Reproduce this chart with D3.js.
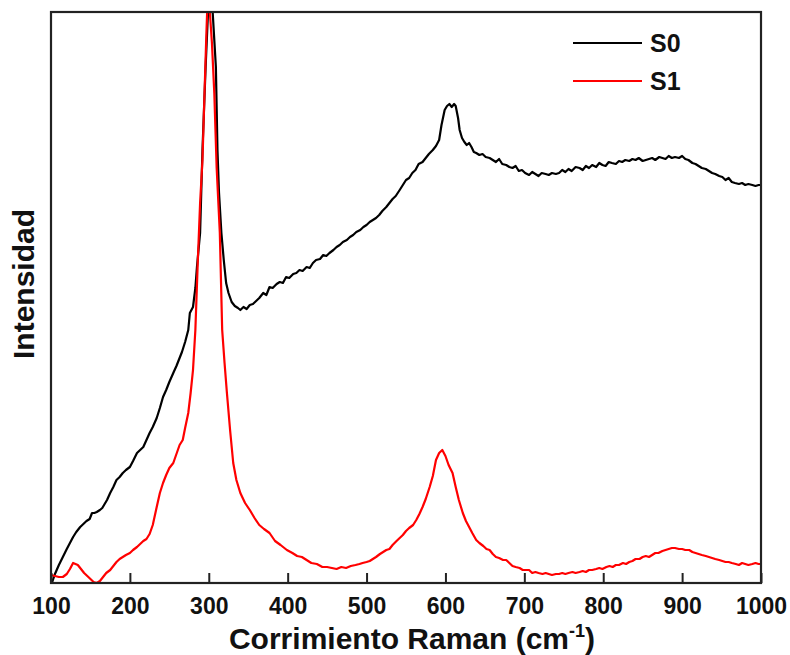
<!DOCTYPE html>
<html>
<head>
<meta charset="utf-8">
<script src="https://cdn.jsdelivr.net/npm/d3@7"></script>
<style>
  html, body { margin: 0; padding: 0; background: #fff; }
  svg { display: block; }
  text { font-family: Arial, "Liberation Sans", Helvetica, sans-serif; font-weight: bold; fill: #111; }
</style>
</head>
<body>
<svg id="chart" width="790" height="655"></svg>
<script>
// Raman shift ticks (cm^-1)
const xTicks = [100, 200, 300, 400, 500, 600, 700, 800, 900, 1000];

// Series names and colours
const seriesNames = ["S0", "S1"];
const seriesColors = ["#000000", "#ff0000"];

// S0 spectrum: [Raman shift, intensity (a.u.)]
const s0 = [
  [101,0],[102,20],[105,90],[110,180],[115,260],[120,340],[124,400],[128,460],[132,510],[137,560],
  [141,590],[145,620],[149,640],[152,700],[155,700],[158,710],[162,730],[165,750],[168,790],[171,830],
  [175,900],[179,960],[183,1030],[187,1060],[191,1100],[195,1130],[200,1160],[204,1220],[209,1300],[213,1330],
  [217,1360],[221,1430],[225,1500],[229,1560],[234,1650],[238,1750],[242,1860],[246,1930],[250,2010],[255,2100],
  [259,2170],[263,2250],[266,2310],[270,2410],[274,2530],[276,2700],[280,2760],[283,2950],[285,3160],[289,3500],
  [292,4330],[296,5160],[299,5700],[302,5950],[305,5700],[309,5160],[311,4330],[313,3900],[316,3500],[319,3230],
  [322,3000],[325,2900],[329,2810],[333,2770],[337,2750],[340,2730],[344,2760],[348,2740],[352,2780],[356,2790],
  [360,2820],[364,2850],[369,2900],[373,2880],[377,2960],[381,2950],[386,2990],[390,3010],[394,3000],[398,3060],
  [402,3050],[407,3090],[411,3100],[415,3130],[419,3120],[424,3160],[428,3150],[432,3200],[436,3230],[441,3240],
  [445,3280],[449,3270],[453,3300],[458,3330],[462,3360],[466,3380],[470,3410],[475,3430],[479,3460],[483,3480],
  [487,3510],[492,3530],[496,3560],[500,3580],[504,3610],[508,3630],[512,3650],[516,3680],[520,3720],[525,3760],
  [529,3800],[533,3840],[537,3870],[542,3930],[546,3980],[550,4030],[554,4050],[558,4100],[562,4130],[566,4190],
  [571,4210],[575,4250],[579,4290],[584,4330],[588,4370],[592,4430],[595,4580],[599,4730],[602,4770],[605,4790],
  [608,4760],[611,4790],[613,4770],[616,4650],[618,4530],[621,4450],[624,4410],[627,4380],[630,4400],[633,4360],
  [636,4310],[639,4300],[643,4280],[647,4290],[651,4260],[656,4250],[660,4230],[664,4210],[668,4240],[672,4190],
  [677,4180],[681,4160],[685,4150],[689,4170],[693,4120],[697,4130],[701,4100],[706,4080],[710,4110],[714,4090],
  [718,4070],[722,4100],[727,4090],[731,4080],[735,4100],[740,4090],[744,4100],[748,4130],[752,4110],[756,4140],
  [760,4120],[765,4160],[770,4150],[774,4130],[778,4170],[782,4150],[786,4180],[791,4160],[795,4200],[799,4180],
  [803,4170],[807,4210],[811,4200],[816,4190],[820,4220],[824,4210],[828,4230],[833,4220],[837,4240],[841,4230],
  [845,4250],[850,4220],[854,4230],[858,4240],[862,4250],[866,4230],[871,4260],[875,4250],[879,4240],[883,4270],
  [887,4250],[891,4260],[896,4250],[900,4270],[904,4240],[908,4230],[913,4200],[917,4190],[921,4170],[925,4150],
  [930,4140],[934,4120],[938,4100],[942,4090],[947,4070],[951,4060],[955,4030],[959,4050],[963,4010],[967,4000],
  [972,3990],[976,4000],[980,3980],[984,3990],[989,3980],[993,3970],[997,3980],[1000,3980]
];

// S1 spectrum: [Raman shift, intensity (a.u.)]
const s1 = [
  [100,80],[105,70],[110,60],[115,60],[120,90],[124,140],[128,200],[131,190],[134,180],[138,140],
  [142,100],[146,70],[150,40],[154,10],[158,0],[162,20],[166,60],[170,100],[175,130],[179,170],
  [183,210],[187,240],[191,260],[195,280],[200,300],[204,330],[209,360],[213,390],[217,420],[221,440],
  [225,490],[229,580],[234,760],[238,900],[242,1000],[246,1080],[250,1150],[255,1200],[259,1290],[263,1380],
  [267,1430],[270,1550],[274,1700],[277,1900],[280,2130],[283,2530],[286,3200],[289,3800],[292,4230],[295,5000],
  [297,5500],[299,5950],[301,5750],[304,5400],[307,4900],[310,4150],[314,3500],[317,2530],[320,2200],[323,1900],
  [327,1530],[331,1200],[335,1030],[340,900],[346,800],[352,730],[358,650],[364,580],[370,540],[377,500],
  [384,420],[391,380],[399,330],[406,300],[412,270],[418,260],[424,230],[430,200],[437,190],[444,160],
  [450,160],[456,150],[462,140],[468,160],[474,150],[480,170],[486,180],[491,190],[495,200],[500,210],
  [504,220],[508,240],[512,260],[517,290],[521,310],[525,330],[529,340],[533,380],[538,420],[542,450],
  [546,480],[550,520],[554,550],[559,580],[563,630],[567,690],[571,760],[575,840],[580,960],[584,1070],
  [588,1230],[592,1300],[596,1330],[600,1270],[604,1180],[609,1100],[613,960],[617,830],[622,700],[626,620],
  [630,560],[634,500],[639,430],[643,400],[648,370],[652,340],[656,330],[660,290],[664,260],[668,250],
  [673,230],[677,230],[681,200],[685,170],[689,160],[694,150],[698,130],[702,130],[706,130],[710,100],
  [714,110],[718,100],[723,90],[727,100],[731,90],[735,80],[740,90],[744,90],[748,100],[752,90],
  [756,100],[761,110],[765,100],[770,110],[774,120],[778,110],[782,130],[786,130],[791,140],[795,150],
  [799,140],[804,160],[808,170],[812,160],[816,180],[820,180],[825,200],[829,190],[833,210],[837,220],
  [841,240],[846,240],[850,260],[854,270],[858,260],[862,280],[866,300],[870,300],[875,320],[879,330],
  [883,340],[887,350],[891,350],[896,340],[900,340],[904,330],[909,330],[913,310],[917,300],[921,290],
  [925,280],[930,270],[934,260],[938,250],[942,240],[947,230],[951,220],[955,210],[959,210],[963,200],
  [968,190],[972,180],[976,200],[980,190],[984,180],[989,190],[993,200],[997,190],[1000,190]
];

const series = [s0, s1];

const margin = { left: 51, top: 12, right: 29, bottom: 72 };
const W = 790, H = 655;
const iw = W - margin.left - margin.right;
const ih = H - margin.top - margin.bottom;

const svg = d3.select("#chart");
const g = svg.append("g").attr("transform", `translate(${margin.left},${margin.top})`);

const x = d3.scaleLinear().domain([100, 1000]).range([0, iw]);
const y = d3.scaleLinear().domain([0, 5710]).range([ih, 0]);

svg.append("defs").append("clipPath").attr("id", "plot-clip")
  .append("rect").attr("x", 0).attr("y", 0).attr("width", iw).attr("height", ih);

// Spectra
const line = d3.line().x(d => x(d[0])).y(d => y(d[1])).curve(d3.curveLinear);
const plot = g.append("g").attr("clip-path", "url(#plot-clip)");
series.forEach((s, i) => {
  plot.append("path")
    .datum(s)
    .attr("fill", "none")
    .attr("stroke", seriesColors[i])
    .attr("stroke-width", 2.2)
    .attr("stroke-linejoin", "round")
    .attr("d", line);
});

// Bottom axis with inward ticks
const xAxis = d3.axisBottom(x).tickValues(xTicks).tickFormat(d3.format("d"))
  .tickSizeInner(-10).tickSizeOuter(0).tickPadding(14);
const ax = g.append("g").attr("transform", `translate(0,${ih})`).call(xAxis);
ax.select(".domain").remove();
ax.selectAll(".tick line").attr("stroke", "#222").attr("stroke-width", 2);
ax.selectAll(".tick text")
  .attr("font-size", 23)
  .attr("font-family", "Arial, 'Liberation Sans', sans-serif")
  .attr("font-weight", "bold")
  .attr("fill", "#111")
  .attr("dy", "0.72em");

// Frame
g.append("rect")
  .attr("x", 0).attr("y", 0).attr("width", iw).attr("height", ih)
  .attr("fill", "none").attr("stroke", "#222").attr("stroke-width", 2.2);

// Axis titles
const xt = svg.append("text")
  .attr("x", margin.left + iw / 2 + 6)
  .attr("y", 649)
  .attr("text-anchor", "middle")
  .attr("font-size", 30);
xt.append("tspan").text("Corrimiento Raman (cm");
xt.append("tspan").attr("font-size", 18).attr("dy", -12).text("-1");
xt.append("tspan").attr("dy", 12).text(")");

svg.append("text")
  .attr("transform", `translate(34,284) rotate(-90)`)
  .attr("text-anchor", "middle")
  .attr("font-size", 30)
  .text("Intensidad");

// Legend
const legend = svg.append("g").attr("transform", "translate(573,43)");
seriesNames.forEach((name, i) => {
  const row = legend.append("g").attr("transform", `translate(0,${i * 38})`);
  row.append("line").attr("x1", 0).attr("x2", 69).attr("y1", 0).attr("y2", 0)
    .attr("stroke", seriesColors[i]).attr("stroke-width", 2.2);
  row.append("text").attr("x", 77).attr("y", 9).attr("font-size", 25).text(name);
});
</script>
</body>
</html>
